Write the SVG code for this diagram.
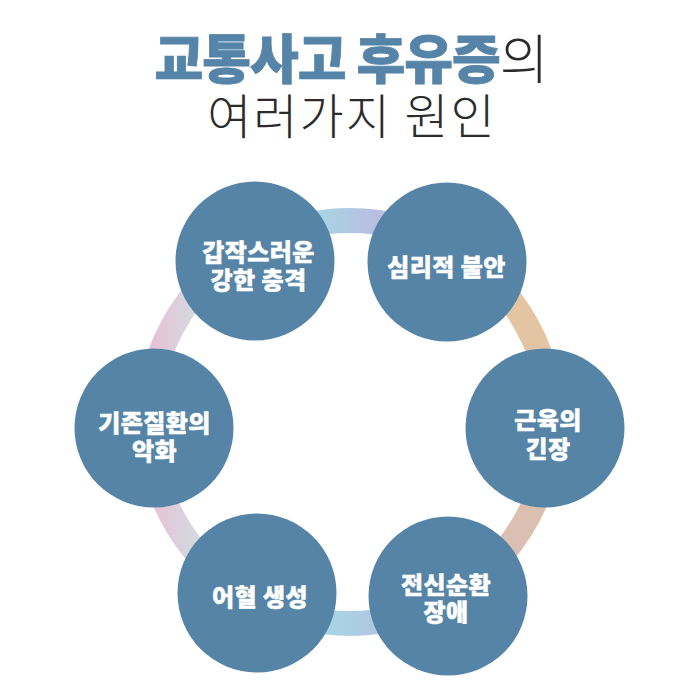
<svg xmlns="http://www.w3.org/2000/svg" width="700" height="700" viewBox="0 0 700 700">
  <defs>
    <linearGradient id="gTop" gradientUnits="userSpaceOnUse" x1="320" y1="0" x2="380" y2="0">
      <stop offset="0" stop-color="#a9d4e4"/>
      <stop offset="1" stop-color="#b9bde0"/>
    </linearGradient>
    <linearGradient id="gRight" gradientUnits="userSpaceOnUse" x1="0" y1="320" x2="0" y2="540">
      <stop offset="0" stop-color="#e3c5a2"/>
      <stop offset="1" stop-color="#dabfb2"/>
    </linearGradient>
    <linearGradient id="gBottom" gradientUnits="userSpaceOnUse" x1="325" y1="0" x2="380" y2="0">
      <stop offset="0" stop-color="#a7d6e6"/>
      <stop offset="1" stop-color="#b0c6e2"/>
    </linearGradient>
    <linearGradient id="gLeft" gradientUnits="userSpaceOnUse" x1="150" y1="0" x2="200" y2="0">
      <stop offset="0" stop-color="#e8c0d6"/>
      <stop offset="1" stop-color="#d2dce2"/>
    </linearGradient>
  </defs>
  <style>
    .ring { fill: none; stroke-width: 25; }
    .node { fill: #5584a7; }
    .lbl { fill: #ffffff; stroke: #ffffff; stroke-width: 0.5; font-family: "Noto Sans CJK KR", sans-serif; font-weight: 900; font-size: 24px; letter-spacing: 0.4px; text-anchor: middle; }
    .title { font-family: "Noto Sans CJK KR", sans-serif; text-anchor: middle; }
  </style>
  <rect width="700" height="700" fill="#ffffff"/>
  <text class="title" x="351" y="79" font-size="53" letter-spacing="-1"><tspan fill="#5584a8" stroke="#5584a8" stroke-width="0.8" font-weight="900">교통사고 후유증</tspan><tspan fill="#2b2b2b" font-weight="300">의</tspan></text>
  <text class="title" x="352" y="134" font-size="48" letter-spacing="2" fill="#2b2b2b" font-weight="200">여러가지 원인</text>
  <g id="connectors">
    <path class="ring" stroke="url(#gTop)" d="M249.25,247.5 A201.5,201.5 0 0 1 450.75,247.5"/>
    <path class="ring" stroke="url(#gRight)" d="M450.75,247.5 A201.5,201.5 0 0 1 450.75,596.5"/>
    <path class="ring" stroke="url(#gBottom)" d="M450.75,596.5 A201.5,201.5 0 0 1 249.25,596.5"/>
    <path class="ring" stroke="url(#gLeft)" d="M249.25,596.5 A201.5,201.5 0 0 1 249.25,247.5"/>
  </g>
  <g id="node-shock">
    <circle class="node" cx="255" cy="261" r="79.5"/>
    <text class="lbl" x="258.5" y="261">갑작스러운</text>
    <text class="lbl" x="258.5" y="289">강한 충격</text>
  </g>
  <g id="node-anxiety">
    <circle class="node" cx="447" cy="262" r="79.5"/>
    <text class="lbl" x="446.5" y="275.5">심리적 불안</text>
  </g>
  <g id="node-muscle">
    <circle class="node" cx="545" cy="428" r="79.5"/>
    <text class="lbl" x="548" y="428.5">근육의</text>
    <text class="lbl" x="548" y="457.5">긴장</text>
  </g>
  <g id="node-circulation">
    <circle class="node" cx="448" cy="596" r="79.5"/>
    <text class="lbl" x="446" y="593.5">전신순환</text>
    <text class="lbl" x="446" y="621">장애</text>
  </g>
  <g id="node-blood">
    <circle class="node" cx="257" cy="593" r="79.5"/>
    <text class="lbl" x="260" y="605.5">어혈 생성</text>
  </g>
  <g id="node-disease">
    <circle class="node" cx="154" cy="428" r="79.5"/>
    <text class="lbl" x="154.5" y="431.5">기존질환의</text>
    <text class="lbl" x="154.5" y="460">악화</text>
  </g>
</svg>
